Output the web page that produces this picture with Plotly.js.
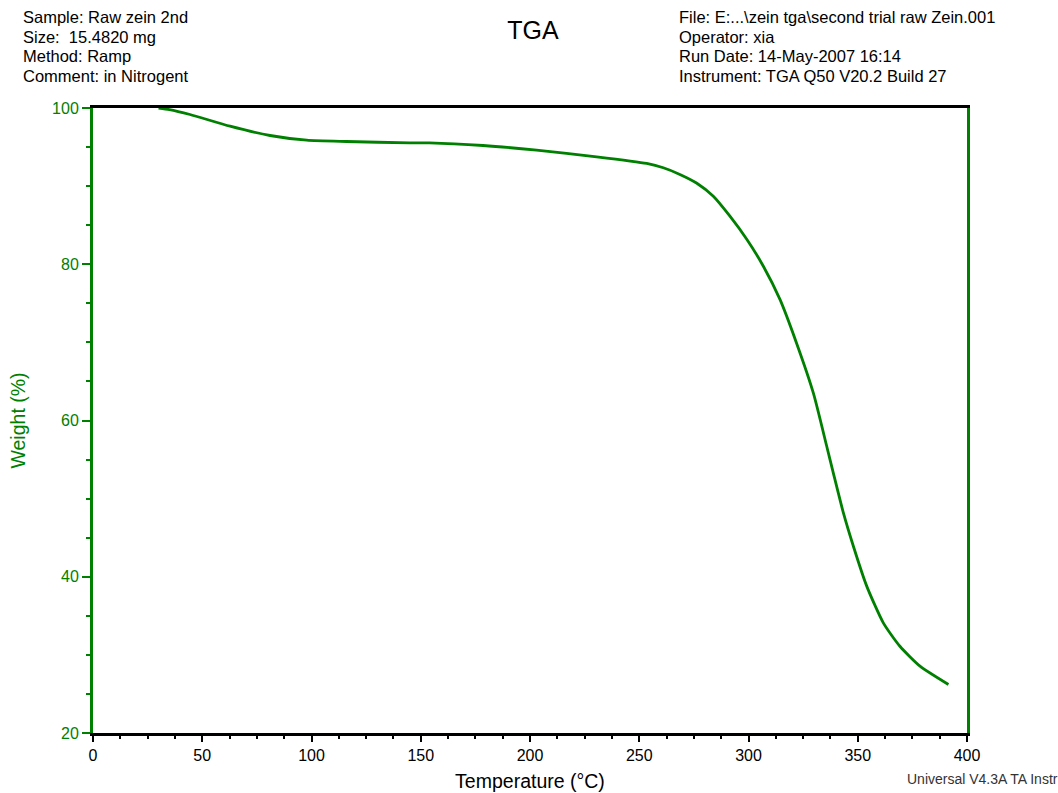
<!DOCTYPE html>
<html>
<head>
<meta charset="utf-8">
<script src="https://cdn.plot.ly/plotly-3.0.1.min.js"></script>
<style>
html,body{margin:0;padding:0;background:#fff;}
#chart{width:1058px;height:793px;}
</style>
</head>
<body>
<div id="chart"></div>
<script>
const temperature = [30, 35, 44.4, 62.7, 81, 97.8, 116, 145, 154, 178.5, 203, 230.5, 253.4, 261, 268.6, 276.2, 283.9, 291.5, 299.2, 306.8, 314.4, 322, 329.7, 335.8, 338.8, 343.4, 348, 354.1, 361.7, 369.3, 378.5, 391.5];
const weight = [100, 99.8, 99.17, 97.67, 96.48, 95.88, 95.71, 95.54, 95.54, 95.2, 94.6, 93.75, 92.9, 92.35, 91.5, 90.4, 88.7, 86.15, 83.2, 79.75, 75.5, 69.9, 63.5, 56.7, 53.3, 48.2, 43.9, 38.8, 34.1, 31.1, 28.55, 26.2];
const xTicks = [0, 50, 100, 150, 200, 250, 300, 350, 400];
const yTicks = [20, 40, 60, 80, 100];
const headerLeft = ["Sample: Raw zein 2nd", "Size:  15.4820 mg", "Method: Ramp", "Comment: in Nitrogent"];
const headerRight = ["File: E:...\\zein tga\\second trial raw Zein.001", "Operator: xia", "Run Date: 14-May-2007 16:14", "Instrument: TGA Q50 V20.2 Build 27"];
const footer = "Universal V4.3A TA Instr";

const green = '#008000';
const font = 'Liberation Sans, Arial, sans-serif';

const trace = {
  x: temperature, y: weight, type: 'scatter', mode: 'lines',
  line: {color: green, width: 2.8, shape: 'spline', smoothing: 0.6},
  hoverinfo: 'skip'
};

const annotations = [];
headerLeft.forEach((t, i) => annotations.push({
  text: t, xref: 'paper', yref: 'paper', x: (21-93)/874, y: 1 + (108 - (17 + i*19.7))/625,
  xanchor: 'left', yanchor: 'middle', showarrow: false,
  font: {family: font, size: 16.5, color: '#000'}
}));
headerRight.forEach((t, i) => annotations.push({
  text: t, xref: 'paper', yref: 'paper', x: (677-93)/874, y: 1 + (108 - (17 + i*19.7))/625,
  xanchor: 'left', yanchor: 'middle', showarrow: false,
  font: {family: font, size: 16.5, color: '#000'}
}));
annotations.push({
  text: footer, xref: 'paper', yref: 'paper', x: (1060-93)/874, y: -(779-733)/625,
  xanchor: 'right', yanchor: 'middle', showarrow: false,
  font: {family: font, size: 14, color: '#333'}
});

const layout = {
  width: 1058, height: 793,
  margin: {l: 93, r: 91, t: 108, b: 60},
  paper_bgcolor: '#fff', plot_bgcolor: '#fff',
  showlegend: false,
  font: {family: font},
  title: {text: 'TGA', x: 533/1058, xanchor: 'center', y: 1 - 30/793, yanchor: 'middle',
          font: {family: font, size: 25, color: '#000'}},
  xaxis: {
    range: [0, 400], tickvals: xTicks, ticktext: xTicks.map(String),
    showgrid: false, zeroline: false,
    showline: true, linecolor: '#000', linewidth: 3, mirror: true,
    ticks: 'outside', ticklen: 6, tickwidth: 2, tickcolor: '#000',
    tickfont: {family: font, size: 16, color: '#000'},
    minor: {dtick: 12.5, tick0: 0, ticks: 'outside', ticklen: 3, tickwidth: 2, tickcolor: '#000', showgrid: false},
    title: {text: 'Temperature (°C)', font: {family: font, size: 19.5, color: '#000'}, standoff: 12}
  },
  yaxis: {
    range: [20, 100], tickvals: yTicks, ticktext: yTicks.map(String),
    showgrid: false, zeroline: false,
    showline: true, linecolor: green, linewidth: 3, mirror: true,
    ticks: 'outside', ticklen: 8, tickwidth: 2, tickcolor: green,
    tickfont: {family: font, size: 16, color: green},
    minor: {dtick: 5, tick0: 20, ticks: 'outside', ticklen: 4, tickwidth: 2, tickcolor: green, showgrid: false},
    title: {text: 'Weight (%)', font: {family: font, size: 19.5, color: green}, standoff: 22}
  },
  annotations: annotations
};

Plotly.newPlot('chart', [trace], layout, {staticPlot: true, displayModeBar: false});
</script>
</body>
</html>
